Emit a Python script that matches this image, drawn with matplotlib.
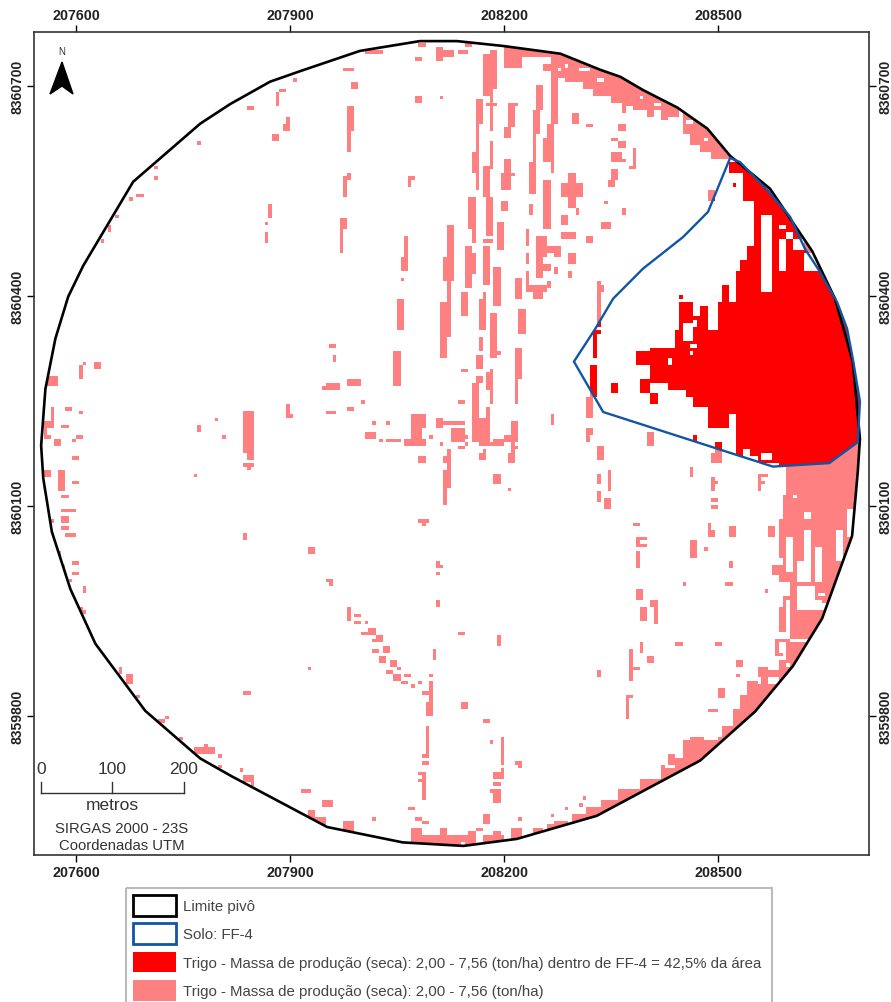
import numpy as np
import matplotlib
matplotlib.use('Agg')
import matplotlib.pyplot as plt
from matplotlib.patches import Polygon, Rectangle

plt.rcParams['font.family'] = ['Liberation Sans', 'DejaVu Sans']

# raster grid of the yield map, cells of 5 m
grid_east = 207550
grid_north = 8360770
cell = 5
n_cells = 240

x_ticks = [207600, 207900, 208200, 208500]
y_ticks = [8360700, 8360400, 8360100, 8359800]

# pivot limit (east, north)
pivot_e = [208082, 208134, 208199, 208279, 208335, 208363, 208395, 208443, 208485, 208517, 208573,
           208632, 208664, 208689, 208699, 208696, 208688, 208646, 208605, 208552, 208475, 208330,
           208218, 208143, 208058, 207952, 207819, 207774, 207697, 207627, 207592, 207566, 207554,
           207551, 207557, 207571, 207589, 207610, 207680, 207774, 207816, 207872, 207914, 207998]
pivot_n = [8360764, 8360764, 8360757, 8360746, 8360723, 8360713, 8360694, 8360669, 8360639, 8360600,
           8360553, 8360464, 8360396, 8360306, 8360196, 8360149, 8360057, 8359939, 8359871, 8359806,
           8359736, 8359657, 8359624, 8359614, 8359619, 8359641, 8359713, 8359739, 8359807, 8359903,
           8359981, 8360063, 8360139, 8360186, 8360267, 8360339, 8360399, 8360443, 8360563, 8360646,
           8360674, 8360706, 8360721, 8360750]

# soil unit FF-4 (east, north)
soil_e = [208517, 208531, 208570, 208601, 208622, 208640, 208667, 208681, 208689, 208699, 208696,
          208656, 208577, 208339, 208298, 208328, 208353, 208395, 208451, 208486]
soil_n = [8360597, 8360591, 8360550, 8360513, 8360467, 8360439, 8360391, 8360353, 8360310, 8360249,
          8360191, 8360161, 8360156, 8360234, 8360306, 8360353, 8360396, 8360439, 8360484, 8360520]

# yield class cells as (col0, col1, row0, row1)
cells_top_band = [
    (130, 135, 0, 9), (135, 143, 0, 6), (143, 147, 0, 12), (147, 152, 0, 13), (152, 155, 0, 15),
    (155, 160, 0, 17), (160, 163, 0, 19), (163, 164, 0, 22), (164, 166, 0, 20), (166, 170, 0, 21),
    (170, 172, 0, 23), (172, 174, 0, 21), (174, 176, 0, 24), (176, 179, 0, 23), (179, 180, 0, 21),
    (180, 182, 0, 28), (182, 185, 0, 31), (185, 188, 0, 33), (188, 193, 0, 35), (141, 143, 8, 10),
    (91, 96, 4, 5), (105, 107, 6, 7), (106, 108, 2, 3), (111, 113, 3, 7), (113, 116, 4, 6),
    (117, 120, 4, 5), (119, 121, 2, 3),
]
cells_strips = [
    (85, 88, 9, 10), (87, 89, 13, 15), (105, 107, 17, 19), (112, 113, 17, 18),
    (124, 126, 5, 17), (122, 124, 18, 25), (122, 123, 25, 34), (121, 123, 33, 39), (122, 123, 39, 44),
    (120, 122, 46, 55), (121, 122, 55, 59), (119, 121, 60, 72), (121, 122, 62, 68), (118, 120, 73, 80),
    (126, 128, 4, 15), (125, 128, 19, 20), (126, 127, 15, 27), (126, 127, 30, 38), (124, 126, 37, 46),
    (125, 127, 46, 57), (124, 127, 58, 59), (124, 126, 60, 71), (123, 125, 75, 84), (124, 125, 73, 75),
    (123, 124, 86, 90), (122, 124, 91, 95), (129, 131, 47, 50), (128, 130, 53, 61), (127, 129, 66, 77),
    (126, 128, 79, 92), (128, 129, 90, 91), (114, 116, 54, 63), (113, 116, 63, 70), (114, 115, 70, 77),
    (112, 115, 76, 86), (112, 114, 86, 92), (102, 103, 57, 63), (101, 103, 63, 67), (101, 102, 69, 70),
    (100, 102, 75, 84), (99, 101, 90, 100), (86, 88, 20, 26), (86, 87, 26, 33), (87, 88, 26, 27),
    (85, 86, 40, 46), (86, 87, 39, 41), (84, 86, 52, 55), (84, 85, 55, 62), (103, 105, 40, 41),
    (103, 104, 41, 43), (81, 83, 88, 89), (82, 83, 91, 93), (81, 84, 99, 101), (86, 90, 98, 100),
    (81, 83, 107, 108), (86, 88, 106, 107), (90, 91, 104, 105), (118, 120, 95, 96), (117, 119, 104, 105),
    (131, 134, 19, 20), (131, 133, 20, 26), (130, 132, 26, 29), (130, 132, 35, 44), (129, 132, 39, 44),
    (132, 133, 39, 40), (139, 141, 14, 21), (138, 140, 21, 28), (138, 139, 28, 36), (137, 139, 36, 45),
    (137, 138, 48, 51), (136, 137, 55, 60), (136, 137, 62, 65), (143, 145, 12, 25), (142, 144, 25, 29),
    (141, 144, 29, 36), (143, 144, 36, 39), (141, 143, 41, 55), (139, 142, 57, 63), (139, 141, 63, 69),
    (141, 143, 65, 67), (142, 146, 60, 62), (144, 146, 60, 63), (144, 145, 66, 68), (148, 149, 68, 69),
    (136, 137, 67, 73), (136, 142, 71, 73), (138, 141, 72, 75), (142, 143, 70, 72), (133, 135, 69, 75),
    (134, 136, 78, 85), (133, 135, 89, 98), (133, 134, 98, 105), (126, 127, 95, 105), (125, 127, 96, 101),
    (122, 124, 97, 99), (121, 123, 99, 110),
]
cells_center = [
    (121, 123, 106, 116), (123, 126, 109, 116), (125, 126, 106, 109), (104, 108, 108, 112),
    (104, 107, 112, 115), (102, 108, 115, 117), (111, 113, 109, 112), (113, 119, 110, 111),
    (115, 119, 112, 116), (119, 120, 114, 115), (117, 119, 117, 118), (119, 120, 116, 117),
    (112, 113, 116, 117), (109, 110, 114, 115), (97, 101, 115, 116), (95, 96, 115, 116),
    (91, 94, 113, 115), (93, 94, 110, 111), (97, 98, 110, 111), (106, 108, 120, 122),
    (114, 115, 118, 129), (113, 114, 120, 122), (113, 115, 124, 129), (113, 114, 129, 134),
    (123, 125, 119, 121), (124, 125, 118, 119), (123, 127, 116, 117), (127, 130, 115, 117),
    (130, 134, 114, 116), (132, 134, 110, 114), (132, 133, 116, 119), (131, 133, 119, 122),
    (133, 134, 117, 118), (127, 129, 125, 128), (131, 132, 129, 130), (143, 144, 108, 111),
    (153, 155, 106, 109), (153, 155, 112, 114), (153, 154, 114, 116), (156, 158, 117, 121),
    (156, 157, 125, 128), (156, 157, 130, 133), (159, 160, 124, 130), (158, 160, 132, 135),
    (106, 109, 138, 139), (107, 108, 139, 140), (111, 112, 150, 152), (112, 113, 151, 152),
    (111, 112, 153, 154), (81, 82, 155, 157),
]
cells_right_of_strips = [
    (149, 151, 22, 25), (153, 155, 25, 26), (162, 164, 25, 27), (160, 162, 29, 30), (162, 164, 30, 32),
    (160, 163, 33, 36), (163, 164, 35, 36), (166, 167, 32, 38), (165, 166, 37, 38), (160, 162, 38, 41),
    (159, 161, 41, 43), (158, 159, 47, 48), (163, 164, 49, 51), (157, 160, 53, 55), (148, 150, 39, 49),
    (146, 152, 42, 46), (150, 151, 49, 51), (146, 148, 51, 54), (146, 150, 56, 58), (153, 155, 57, 59),
    (148, 150, 62, 65), (148, 149, 67, 69), (187, 189, 44, 47), (156, 157, 70, 82), (157, 158, 71, 73),
    (156, 157, 82, 83), (155, 156, 84, 92), (155, 157, 84, 85), (154, 156, 94, 103), (153, 155, 103, 109),
    (160, 162, 99, 102), (170, 172, 113, 117), (183, 184, 114, 116), (189, 191, 116, 119),
    (188, 191, 119, 122), (182, 183, 123, 126), (188, 189, 126, 130), (189, 190, 127, 128),
    (188, 190, 132, 133), (188, 190, 134, 135), (201, 202, 125, 130), (202, 204, 125, 126),
    (202, 203, 127, 128), (166, 168, 139, 140), (167, 168, 143, 146), (168, 170, 143, 144),
    (168, 170, 145, 146), (167, 168, 147, 152), (167, 169, 158, 161), (168, 170, 163, 167),
    (172, 173, 162, 168), (171, 173, 161, 163), (168, 169, 173, 176), (178, 180, 173, 174),
    (189, 191, 173, 174), (170, 172, 177, 179), (165, 166, 175, 184), (166, 168, 180, 181),
    (164, 165, 188, 195), (165, 166, 188, 189), (187, 188, 139, 143), (188, 189, 141, 143),
    (193, 195, 140, 143), (182, 184, 144, 149), (186, 187, 146, 147), (193, 194, 150, 152),
    (180, 181, 156, 157), (192, 194, 156, 157), (203, 204, 158, 159), (204, 206, 140, 143),
    (195, 197, 178, 180), (195, 196, 182, 183), (190, 192, 186, 189), (187, 190, 192, 193),
]
cells_inside_soil = [
    (193, 240, 36, 39), (197, 240, 39, 47), (194, 195, 42, 43), (200, 202, 47, 73), (202, 205, 47, 51),
    (205, 240, 47, 73), (198, 200, 60, 73), (196, 198, 64, 73), (195, 196, 67, 76), (191, 193, 71, 76),
    (195, 240, 73, 76), (190, 240, 76, 84), (185, 187, 77, 85), (179, 183, 76, 84), (183, 185, 80, 84),
    (179, 180, 74, 75), (178, 240, 84, 89), (171, 240, 89, 99), (167, 171, 90, 94), (168, 171, 98, 102),
    (171, 173, 102, 105), (176, 240, 99, 101), (181, 240, 101, 103), (183, 240, 103, 106),
    (187, 240, 106, 112), (195, 240, 112, 118), (195, 240, 118, 120), (201, 240, 120, 122),
    (207, 240, 119, 123),
]
cells_bottom_right = [
    (209, 240, 122, 131), (208, 240, 131, 138), (207, 240, 138, 149), (208, 240, 149, 151),
    (205, 240, 151, 154), (207, 240, 154, 156), (210, 240, 156, 172), (207, 208, 163, 170),
    (208, 209, 160, 170), (208, 210, 160, 161), (206, 210, 172, 173), (206, 240, 173, 174),
    (206, 208, 174, 177), (209, 240, 174, 178), (207, 240, 178, 181), (202, 240, 181, 185),
    (201, 204, 180, 183), (198, 201, 184, 188), (201, 240, 185, 188), (196, 240, 188, 192),
    (194, 240, 192, 197), (191, 240, 197, 200), (182, 186, 200, 201), (190, 240, 200, 201),
    (180, 240, 201, 206), (176, 178, 205, 208), (178, 240, 206, 240), (174, 175, 208, 209),
]
cells_left = [
    (58, 60, 20, 21), (66, 67, 16, 20), (67, 69, 15, 16), (68, 70, 25, 27), (69, 70, 23, 25),
    (65, 67, 28, 30), (71, 72, 12, 13), (44, 45, 30, 31), (32, 33, 40, 41), (32, 33, 37, 38),
    (27, 29, 45, 46), (25, 26, 46, 47), (21, 22, 51, 52), (19, 20, 54, 56), (17, 18, 58, 59),
    (64, 65, 48, 52), (63, 64, 53, 54), (63, 64, 56, 59), (15, 17, 93, 95), (12, 13, 93, 94),
    (11, 12, 94, 98), (2, 5, 97, 100), (3, 4, 106, 110), (1, 4, 110, 112), (1, 3, 114, 115),
    (1, 2, 112, 114), (7, 9, 106, 107), (11, 12, 107, 108), (6, 8, 111, 112), (10, 12, 114, 115),
    (9, 10, 115, 116), (4, 6, 115, 117), (9, 11, 120, 121), (1, 3, 124, 126), (5, 7, 124, 130),
    (6, 8, 131, 132), (9, 11, 127, 128), (6, 10, 135, 136), (6, 8, 137, 139), (6, 8, 140, 141),
    (7, 10, 142, 143), (3, 4, 138, 139), (9, 11, 150, 151), (9, 11, 153, 154), (8, 9, 155, 156),
    (12, 13, 157, 158), (5, 6, 147, 149), (6, 7, 151, 153), (44, 45, 111, 113), (49, 50, 109, 110),
    (51, 52, 114, 115), (57, 60, 107, 119), (58, 60, 119, 121), (57, 60, 122, 123), (58, 59, 123, 124),
    (43, 44, 125, 126), (57, 58, 142, 144), (69, 70, 105, 109), (70, 71, 108, 109), (75, 77, 146, 148),
    (79, 81, 100, 101), (80, 81, 99, 100), (80, 81, 107, 108), (80, 81, 155, 156), (11, 12, 163, 165),
    (12, 13, 164, 165), (22, 23, 180, 182), (24, 26, 182, 185), (27, 28, 188, 189), (35, 36, 194, 195),
    (33, 35, 195, 196), (39, 40, 200, 201), (43, 49, 203, 205), (46, 47, 202, 203), (50, 51, 205, 206),
    (50, 51, 208, 209), (56, 57, 209, 210), (57, 60, 211, 213), (59, 60, 213, 214), (57, 59, 187, 188),
    (75, 76, 180, 181), (12, 13, 158, 159),
]
cells_bottom = [
    (86, 87, 163, 167), (88, 90, 165, 166), (88, 90, 167, 168), (91, 92, 167, 168), (90, 94, 170, 171),
    (92, 94, 169, 170), (94, 96, 171, 173), (93, 94, 172, 173), (96, 98, 174, 176), (93, 95, 175, 176),
    (95, 97, 177, 179), (98, 100, 178, 180), (97, 99, 181, 182), (100, 101, 180, 181), (99, 101, 182, 184),
    (102, 104, 182, 183), (101, 103, 184, 185), (104, 105, 185, 186), (106, 107, 184, 185),
    (109, 110, 182, 183), (109, 110, 184, 191), (107, 109, 187, 188), (108, 110, 190, 194),
    (108, 109, 197, 205), (107, 109, 205, 206), (107, 109, 207, 208), (106, 108, 210, 211),
    (107, 108, 211, 218), (106, 107, 212, 213), (111, 112, 161, 163), (110, 111, 175, 178),
    (117, 119, 170, 171), (128, 129, 171, 174), (118, 120, 190, 192), (124, 126, 195, 196),
    (126, 127, 201, 202), (129, 130, 200, 208), (133, 135, 207, 208), (134, 135, 208, 209),
    (127, 130, 210, 212), (129, 130, 209, 210), (127, 129, 213, 214), (126, 129, 215, 216),
    (127, 129, 216, 219), (73, 76, 215, 216), (79, 82, 218, 220), (103, 105, 220, 221),
    (105, 107, 223, 224), (107, 109, 224, 225), (93, 94, 223, 224), (124, 126, 222, 225),
    (134, 135, 223, 224), (156, 157, 181, 183), (152, 153, 217, 218), (147, 148, 220, 221),
    (151, 152, 219, 220), (143, 144, 222, 223), (104, 107, 226, 240), (107, 112, 228, 240),
    (112, 114, 226, 240), (114, 120, 228, 240), (120, 122, 227, 240), (122, 124, 226, 227),
    (124, 127, 228, 240), (127, 129, 227, 240), (129, 130, 228, 240), (132, 135, 226, 240),
    (138, 141, 226, 240), (142, 145, 225, 240), (144, 148, 224, 240), (149, 153, 222, 240),
    (153, 157, 220, 240), (75, 77, 221, 240), (77, 80, 223, 240), (85, 88, 224, 240),
    (157, 162, 218, 240), (162, 168, 215, 240), (168, 174, 212, 240), (174, 178, 209, 240),
]
# white cells left inside the filled areas
cells_holes = [
    (157, 158, 12, 13), (168, 169, 17, 18), (172, 174, 19, 20), (181, 183, 24, 25), (186, 187, 29, 30),
    (145, 146, 9, 10), (147, 148, 8, 9), (151, 154, 9, 10), (156, 158, 12, 13), (141, 143, 6, 8),
    (180, 183, 82, 87), (183, 184, 81, 83), (176, 177, 92, 94), (182, 184, 88, 89), (182, 183, 90, 91),
    (207, 209, 58, 67), (207, 209, 54, 55), (209, 211, 56, 58), (211, 214, 58, 61), (214, 218, 62, 67),
    (193, 195, 108, 112), (197, 199, 118, 120), (202, 205, 119, 121), (209, 211, 143, 153),
    (214, 216, 141, 156), (212, 214, 150, 156), (217, 219, 146, 156), (223, 225, 141, 150),
    (226, 228, 135, 143), (214, 216, 136, 138), (211, 212, 131, 132), (212, 217, 157, 164),
    (217, 219, 161, 164), (219, 221, 162, 164), (218, 220, 159, 160), (214, 217, 172, 173),
    (207, 209, 173, 176), (209, 210, 179, 180), (204, 207, 183, 185), (118, 119, 230, 231),
]

legend_labels = ['Limite pivô', 'Solo: FF-4',
                 'Trigo - Massa de produção (seca): 2,00 - 7,56 (ton/ha) dentro de FF-4 = 42,5% da área',
                 'Trigo - Massa de produção (seca): 2,00 - 7,56 (ton/ha)']

pink = '#ff8080'
red = '#ff0000'
blue = '#1155a5'

yield_mask = np.zeros((n_cells, n_cells), dtype=bool)
for group in [cells_top_band, cells_strips, cells_center, cells_right_of_strips, cells_inside_soil,
              cells_bottom_right, cells_left, cells_bottom]:
    for c0, c1, r0, r1 in group:
        yield_mask[r0:r1, c0:c1] = True
for c0, c1, r0, r1 in cells_holes:
    yield_mask[r0:r1, c0:c1] = False

fig = plt.figure(figsize=(8.91, 10.03), dpi=100)
ax = fig.add_axes([34 / 891, 1 - 856 / 1003, (868.5 - 34) / 891, (856 - 33) / 1003])

extent = [grid_east, grid_east + cell * n_cells, grid_north - cell * n_cells, grid_north]
pivot_xy = np.column_stack([pivot_e, pivot_n])
soil_xy = np.column_stack([soil_e, soil_n])
for color, outline in [(pink, pivot_xy), (red, soil_xy)]:
    rgba = np.zeros((n_cells, n_cells, 4))
    rgba[..., :3] = matplotlib.colors.to_rgb(color)
    rgba[..., 3] = yield_mask
    im = ax.imshow(rgba, extent=extent, aspect='auto', interpolation='nearest', zorder=1)
    im.set_clip_path(Polygon(outline, closed=True, transform=ax.transData))

ax.add_patch(Polygon(pivot_xy, closed=True, fill=False, edgecolor='black', lw=1.9, zorder=3))
ax.add_patch(Polygon(soil_xy, closed=True, fill=False, edgecolor=blue, lw=1.7, zorder=4))

ax.set_xlim(207541, 208711)
ax.set_ylim(8359601, 8360777)
ax.set_xticks(x_ticks, [str(v) for v in x_ticks], fontweight='bold', color='#222222', fontsize=10.3)
ax.set_yticks(y_ticks, [str(v) for v in y_ticks], rotation=90, va='center', fontweight='bold',
              color='#222222', fontsize=10)
ax.tick_params(top=True, right=True, labeltop=True, labelright=True, length=5, width=1, pad=2)
for s in ax.spines.values():
    s.set_linewidth(1.2)
    s.set_color('#333333')

# scale bar, 200 m long
bar_e = 207551
bar_n = 8359689
ax.plot([bar_e, bar_e + 200], [bar_n, bar_n], color='#333333', lw=1, zorder=5)
for d in [0, 100, 200]:
    ax.plot([bar_e + d, bar_e + d], [bar_n, bar_n + 17], color='#333333', lw=1, zorder=5)
    ax.text(bar_e + d, bar_n + 36, str(d), ha='center', va='center', fontsize=12.5, color='#333333')
ax.text(bar_e + 100, bar_n - 16, 'metros', ha='center', va='center', fontsize=12.5, color='#333333')
ax.text(207664, bar_n - 50, 'SIRGAS 2000 - 23S', ha='center', va='center', fontsize=10.7, color='#333333')
ax.text(207664, bar_n - 73, 'Coordenadas UTM', ha='center', va='center', fontsize=10.7, color='#333333')

# overlay in pixels for north arrow and legend
over = fig.add_axes([0, 0, 1, 1], facecolor='none')
over.set_xlim(0, 891)
over.set_ylim(1003, 0)
over.axis('off')
over.add_patch(Polygon([(62, 63), (73, 95), (62, 87), (50, 95)], closed=True, color='black'))
over.text(62, 52, 'N', ha='center', va='center', fontsize=7, color='#333333')

over.add_patch(Rectangle((126, 889), 646, 120, fill=False, edgecolor='#bbbbbb', lw=1.5, clip_on=True))
styles = [dict(fill=False, edgecolor='black', lw=2), dict(fill=False, edgecolor=blue, lw=2),
          dict(facecolor=red, edgecolor='none'), dict(facecolor=pink, edgecolor='none')]
for i, label in enumerate(legend_labels):
    y = 896 + i * 28.4
    over.add_patch(Rectangle((133, y), 43, 20.5, **styles[i]))
    over.text(183, y + 11, label, va='center', ha='left', fontsize=10.8, color='#444444')

fig.savefig('out.png', dpi=100)
